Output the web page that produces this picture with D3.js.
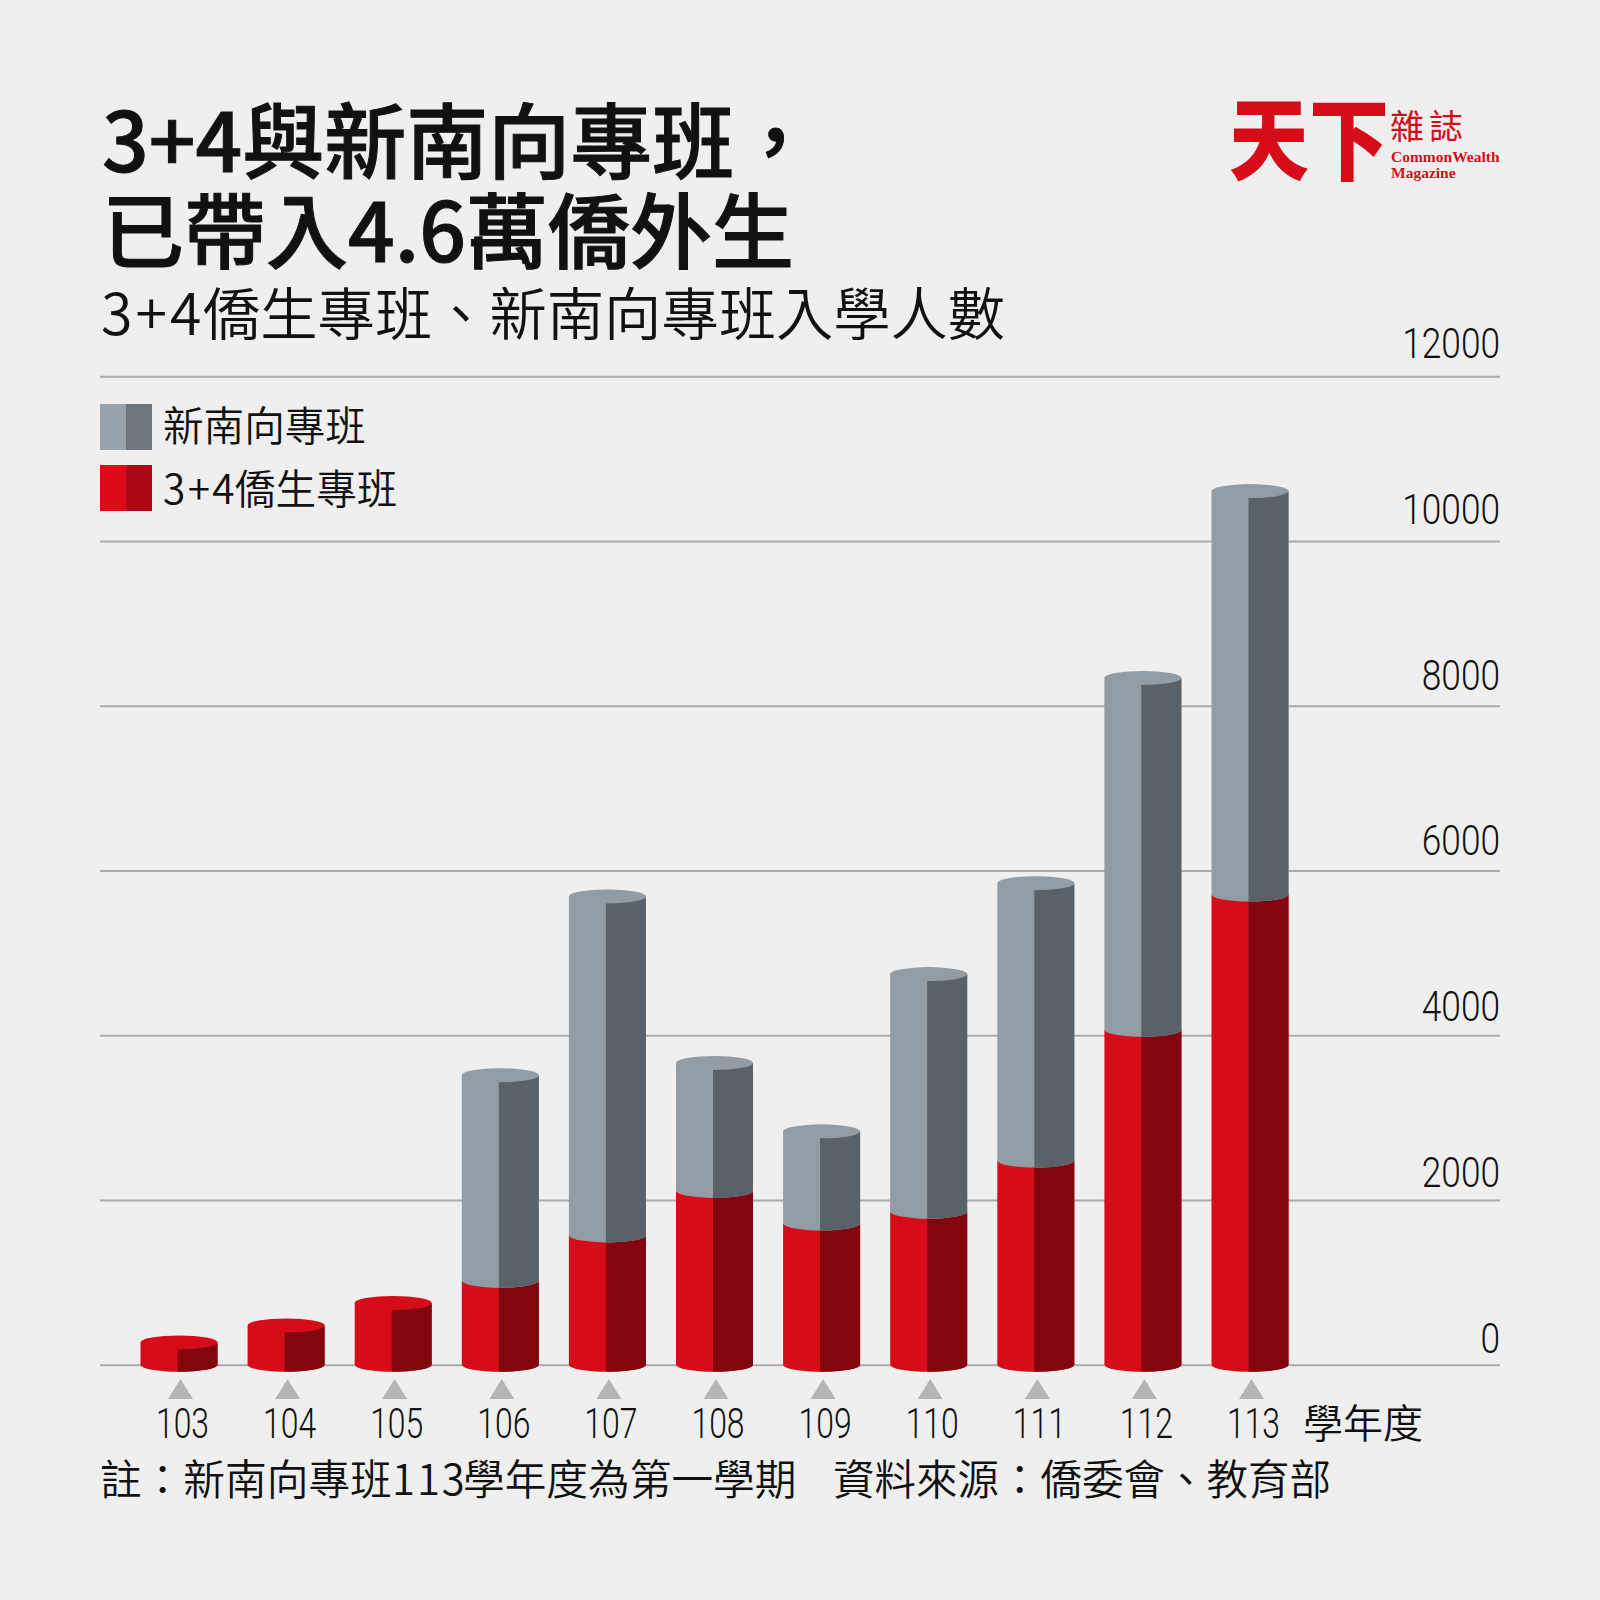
<!DOCTYPE html>
<html lang="zh-Hant">
<head>
<meta charset="utf-8">
<script src="https://cdn.jsdelivr.net/npm/d3@7/dist/d3.min.js"></script>
<style>
html,body{margin:0;padding:0;background:#efefef;}
svg{display:block;}
text{font-family:"Noto Sans CJK TC","Noto Sans CJK JP",sans-serif;fill:#111;}
.num text{font-family:"Roboto",sans-serif;font-weight:300;}
</style>
</head>
<body>
<script>
const years = ["103","104","105","106","107","108","109","110","111","112","113"];
const overseas34 = [271,477,750,1020,1570,2110,1715,1858,2478,4065,5708];
const southbound = [0,0,0,2495,4114,1553,1118,2884,3367,4272,4898];
const yTicks = [0,2000,4000,6000,8000,10000,12000];
const seriesNames = ["新南向專班","僑生專班"];
const titleLines = ["3+4與新南向專班，","已帶入4.6萬僑外生"];
const subtitleParts = ["3+4","僑生專班、新南向專班入學人數"];
const unitLabel = "學年度";
const noteText = ["註：新南向專班","113","學年度為第一學期"];
const sourceText = "資料來源：僑委會、教育部";

const svg = d3.select("body").append("svg").attr("width",1600).attr("height",1600);
svg.append("rect").attr("width",1600).attr("height",1600).attr("fill","#efefef");

const x = d3.scalePoint().domain(years).range([179,1250]);
const y = d3.scaleLinear().domain([0,12000]).range([1364.7,376.3]);
const yLabel = d3.scaleLinear().domain([0,12000]).range([1352,357.5]);
const barW = 77, ry = 7, splitShift = -1.5;
const C = {grey:["#929ca4","#5a6168"], red:["#d60c18","#82060e"]};

// grid + value axis
const gAxis = svg.append("g").attr("class","num").attr("transform","translate(1500,0)")
  .call(d3.axisLeft(y).tickValues(yTicks).tickSize(1400).tickFormat(d3.format("d")));
gAxis.select(".domain").remove();
gAxis.selectAll("line").attr("stroke","#aaa").attr("stroke-width",2);
gAxis.selectAll("text").attr("x",0).attr("dy",0)
  .attr("y",function(d){return yLabel(d)-y(d);})
  .attr("text-anchor","end").attr("font-size",42).attr("fill","#111")
  .attr("transform","scale(.84,1)");

// cylinders
function cylinder(g, cx, yBottom, yTop, cols, capped){
  const l = cx-barW/2, r = cx+barW/2, rx = barW/2, sx = cx+splitShift;
  g.append("path").attr("fill",cols[0])
    .attr("d",`M${l},${yTop}L${r},${yTop}L${r},${yBottom}A${rx},${ry} 0 0 1 ${l},${yBottom}Z`);
  if(capped){
    g.append("ellipse").attr("cx",cx).attr("cy",yTop).attr("rx",rx).attr("ry",ry).attr("fill",cols[0]);
  }
  g.append("path").attr("fill",cols[1])
    .attr("d",`M${sx},${yTop+ry}A${rx},${ry} 0 0 0 ${r},${yTop}L${r},${yBottom}A${rx},${ry} 0 0 1 ${sx},${yBottom+ry}Z`);
}
const gBars = svg.append("g");
years.forEach((yr,i)=>{
  const g = gBars.append("g");
  const cx = x(yr);
  const a = overseas34[i], b = southbound[i];
  cylinder(g,cx,y(0),y(a),C.red,b===0);
  if(b>0) cylinder(g,cx,y(a),y(a+b),C.grey,true);
});

// triangles & year labels
const gX = svg.append("g").attr("class","num").attr("transform","translate(3,1438)")
  .call(d3.axisBottom(x).tickSize(0).tickPadding(0));
gX.select(".domain").remove();
gX.selectAll("text").attr("y",0).attr("dy",0).attr("text-anchor","middle").attr("font-size",42).attr("fill","#111")
  .attr("transform","scale(.76,1)");
svg.append("g").selectAll("path").data(years).join("path")
  .attr("fill","#b5b5b5")
  .attr("d",d3.symbol().type({draw(c){c.moveTo(0,-10);c.lineTo(12.5,10);c.lineTo(-12.5,10);c.closePath();}}))
  .attr("transform",d=>`translate(${x(d)+1.5},1389)`);
svg.append("text").text(unitLabel).attr("x",1303).attr("y",1438).attr("font-size",40).attr("font-weight",350);

// titles
titleLines.forEach((t,i)=>svg.append("text").text(t).attr("x",102).attr("y",[172,262][i])
  .attr("font-size",82).attr("font-weight",500).attr("stroke","#111").attr("stroke-width",1));
const sub = svg.append("text").attr("y",335).attr("font-size",57.3).attr("font-weight",350);
sub.append("tspan").attr("x",101).attr("letter-spacing",3).text(subtitleParts[0]);
sub.append("tspan").attr("x",203).text(subtitleParts[1]);

// legend
[["grey",404,441],["red",465,504]].forEach(([k,top,base],i)=>{
  const light = k==="grey"?"#98a2aa":"#dc0b17", dark = k==="grey"?"#6f767d":"#ab0a14";
  svg.append("rect").attr("x",100).attr("y",top).attr("width",26).attr("height",46).attr("fill",light);
  svg.append("rect").attr("x",126).attr("y",top).attr("width",26).attr("height",46).attr("fill",dark);
  const t = svg.append("text").attr("y",base).attr("font-size",40.6).attr("font-weight",350);
  if(i===1){
    t.append("tspan").attr("x",163).attr("letter-spacing",2.4).text(subtitleParts[0]);
    t.append("tspan").attr("x",235).text(seriesNames[i]);
  } else {
    t.append("tspan").attr("x",163).text(seriesNames[i]);
  }
});

// note
const note = svg.append("text").attr("y",1495).attr("font-size",41.7).attr("font-weight",350);
note.append("tspan").attr("x",100).text(noteText[0]);
note.append("tspan").attr("x",392).attr("letter-spacing",2).text(noteText[1]);
note.append("tspan").attr("x",463).text(noteText[2]);
svg.append("text").text(sourceText).attr("x",833).attr("y",1495).attr("font-size",41.5).attr("font-weight",350);

// brand mark
const red = "#d70c19";
const logo = svg.append("g");
logo.append("text").text("天下").attr("font-size",80).attr("font-weight",900)
  .attr("transform","translate(1229,173) scale(1,1.12)").style("fill",red);
logo.append("text").text("雜誌").attr("x",1390).attr("y",139).attr("font-size",34).attr("letter-spacing",5).attr("font-weight",400).style("fill",red);
["CommonWealth","Magazine"].forEach((t,i)=>logo.append("text").text(t).attr("x",1391).attr("y",[162,178][i])
  .attr("font-size",15.5).attr("font-weight",700).style("font-family","'Liberation Serif',serif").style("fill",red));
</script>
</body>
</html>
